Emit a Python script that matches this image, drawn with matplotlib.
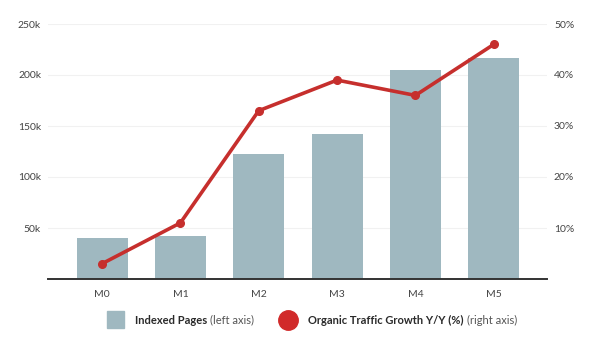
import matplotlib
matplotlib.use("Agg")
import matplotlib.pyplot as plt
from matplotlib.patches import Rectangle
from matplotlib.lines import Line2D
from matplotlib.ticker import FuncFormatter

months = ["M0", "M1", "M2", "M3", "M4", "M5"]
indexed_pages = [40000, 42000, 123000, 142000, 205000, 217000]
traffic_growth = [3, 11, 33, 39, 36, 46]
left_ticks = [50000, 100000, 150000, 200000, 250000]
right_ticks = [10, 20, 30, 40, 50]

BAR = "#9fb8c0"
LINE = "#c62f2d"
TXT = "#444444"

plt.rcParams["font.family"] = ["Lato", "DejaVu Sans"]

W, H = 599, 346
fig = plt.figure(figsize=(W / 100, H / 100), dpi=100)
ax = fig.add_axes([48 / W, 1 - 279 / H, (547 - 48) / W, (279 - 24) / H])

x = list(range(len(months)))
ax.bar(x, indexed_pages, width=0.65, color=BAR, zorder=2)
ax.set_ylim(0, 250000)
ax.set_xlim(-0.69, 5.68)
ax.set_yticks(left_ticks)
ax.yaxis.set_major_formatter(FuncFormatter(lambda v, p: f"{int(v / 1000)}k"))
ax.set_xticks(x)
ax.set_xticklabels(months)
ax.grid(axis="y", color="#f1f1f1", linewidth=0.8, zorder=0)
for s in ["top", "right", "left"]:
    ax.spines[s].set_visible(False)
ax.spines["bottom"].set_color("#333333")
ax.spines["bottom"].set_linewidth(1.4)
ax.tick_params(axis="both", length=0, labelsize=7.5, labelcolor=TXT)
ax.tick_params(axis="y", pad=5)
ax.tick_params(axis="x", pad=8)

ax2 = ax.twinx()
ax2.set_ylim(0, 50)
ax2.set_yticks(right_ticks)
ax2.set_yticklabels([f"{v}%" for v in right_ticks])
ax2.plot(x, traffic_growth, color=LINE, linewidth=2.6, marker="o",
         markersize=5.5, zorder=3, solid_capstyle="round")
for s in ["top", "right", "left", "bottom"]:
    ax2.spines[s].set_visible(False)
ax2.tick_params(axis="y", length=0, labelsize=7.5, labelcolor=TXT, pad=5)

# legend drawn in figure pixel space
fig.patches.append(Rectangle((107 / W, 1 - 328 / H), 17 / W, 17 / H,
                             transform=fig.transFigure, color=BAR))
fig.add_artist(Line2D([288 / W], [1 - 320 / H], transform=fig.transFigure,
                      marker="o", markersize=14, color="#d12a2a",
                      linestyle="none"))

fig.canvas.draw()
renderer = fig.canvas.get_renderer()


def legend_label(x0, bold, normal):
    t = fig.text(x0 / W, 1 - 320 / H, bold, fontsize=8, fontweight="bold",
                 color="#2a2a2a", va="center", ha="left")
    bb = t.get_window_extent(renderer)
    fig.text(bb.x1 / W + 3 / W, 1 - 320 / H, normal, fontsize=8,
             color="#555555", va="center", ha="left")


legend_label(135, "Indexed Pages", "(left axis)")
legend_label(308, "Organic Traffic Growth Y/Y (%)", "(right axis)")

fig.savefig("out.png", dpi=100)
